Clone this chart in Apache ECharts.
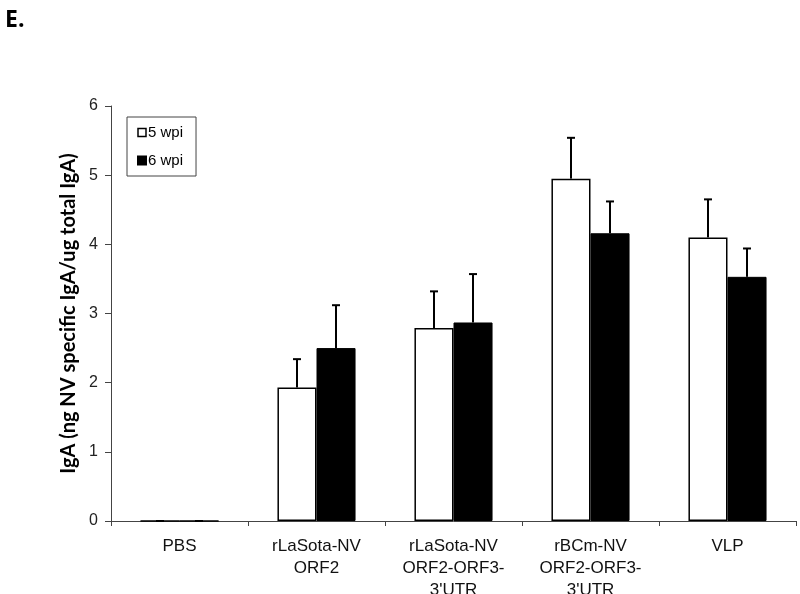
<!DOCTYPE html>
<html><head><meta charset="utf-8">
<script src="https://cdn.jsdelivr.net/npm/echarts@6/dist/echarts.min.js"></script>
<style>html,body{margin:0;padding:0;background:#fff;}#c{width:800px;height:594px;}</style>
</head><body><div id="c"></div>
<script>
var categories = ['PBS', 'rLaSota-NV\nORF2', 'rLaSota-NV\nORF2-ORF3-\n3\'UTR', 'rBCm-NV\nORF2-ORF3-\n3\'UTR', 'VLP'];
var seriesNames = ['5 wpi', '6 wpi'];
var wpi5 = [0, 1.93, 2.79, 4.95, 4.10];
var wpi5Err = [0, 0.41, 0.53, 0.59, 0.55];
var wpi6 = [0, 2.50, 2.87, 4.16, 3.53];
var wpi6Err = [0, 0.62, 0.70, 0.46, 0.41];
var yTicks = [0, 1, 2, 3, 4, 5, 6];

var BARFRAC = 0.285;
function errSeries(vals, errs, side) {
  return {
    type: 'custom', silent: true, z: 5,
    data: vals.map(function (v, i) { return [i, v, v + errs[i]]; }),
    renderItem: function (params, api) {
      var band = api.size([1, 0])[0];
      var c0 = api.coord([api.value(0), api.value(1)]);
      var c1 = api.coord([api.value(0), api.value(2)]);
      var x = c0[0] + side * band * BARFRAC / 2;
      var cap = 4;
      var st = { stroke: '#000', lineWidth: 2 };
      return { type: 'group', children: [
        { type: 'line', shape: { x1: x, y1: c0[1], x2: x, y2: c1[1] }, style: st },
        { type: 'line', shape: { x1: x - cap, y1: c1[1], x2: x + cap, y2: c1[1] }, style: st }
      ]};
    }
  };
}

var chart = echarts.init(document.getElementById('c'));
chart.setOption({
  animation: false,
  backgroundColor: '#fff',
  title: { text: 'E.', left: 0, top: 4, textStyle: { fontSize: 23, fontWeight: 'bold', color: '#000', fontFamily: 'Open Sans' } },
  legend: {
    orient: 'vertical', left: 127, top: 117,
    padding: [8, 13, 8, 10], itemGap: 13, itemWidth: 8, itemHeight: 8,
    borderColor: '#444', borderWidth: 1,
    textStyle: { fontSize: 15, lineHeight: 15, color: '#000', fontFamily: 'Liberation Sans', padding: [0, 0, 0, -3] },
    data: [
      { name: seriesNames[0], icon: 'rect', itemStyle: { color: '#fff', borderColor: '#000', borderWidth: 1.5 } },
      { name: seriesNames[1], icon: 'rect', itemStyle: { color: '#000' } }
    ]
  },
  grid: { left: 111, right: 4, top: 106, bottom: 73, containLabel: false, outerBoundsMode: 'none' },
  xAxis: {
    type: 'category', data: categories,
    axisLine: { lineStyle: { color: '#444', width: 1 } },
    axisTick: { show: true, length: 5, lineStyle: { color: '#444' } },
    axisLabel: { fontSize: 17, color: '#111', fontFamily: 'Liberation Sans', lineHeight: 22, margin: 14, interval: 0 }
  },
  yAxis: {
    type: 'value', min: yTicks[0], max: yTicks[yTicks.length - 1], interval: 1,
    name: 'IgA (ng NV specific IgA/ug total IgA)', nameLocation: 'middle', nameGap: 32,
    nameTextStyle: { fontSize: 20, fontWeight: 'bold', color: '#000', fontFamily: 'Lato' },
    axisLine: { show: true, lineStyle: { color: '#444', width: 1 } },
    axisTick: { show: true, length: 6, lineStyle: { color: '#444' } },
    splitLine: { show: false },
    axisLabel: { fontSize: 16, color: '#222', fontFamily: 'Liberation Sans', margin: 13 }
  },
  series: [
    { name: seriesNames[0], type: 'bar', data: wpi5, barWidth: (BARFRAC * 100) + '%', barGap: '0%',
      itemStyle: { color: '#fff', borderColor: '#000', borderWidth: 1.5 } },
    { name: seriesNames[1], type: 'bar', data: wpi6, barWidth: (BARFRAC * 100) + '%', barGap: '0%',
      itemStyle: { color: '#000', borderColor: '#000', borderWidth: 1 } },
    errSeries(wpi5, wpi5Err, -1),
    errSeries(wpi6, wpi6Err, 1)
  ]
});
</script></body></html>
